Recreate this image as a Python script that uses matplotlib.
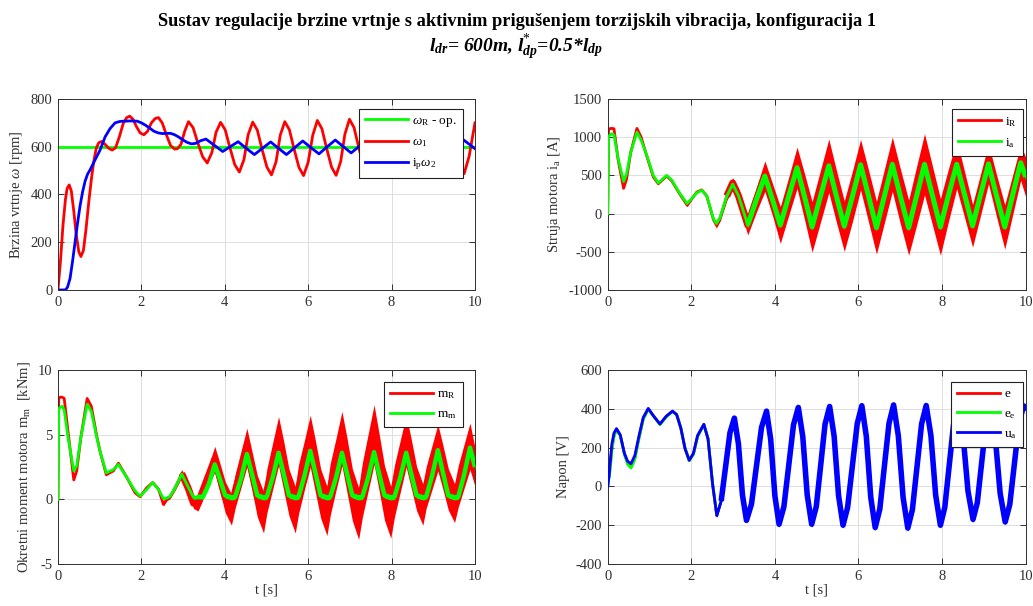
import numpy as np
import matplotlib
matplotlib.use("Agg")
import matplotlib.pyplot as plt

plt.rcParams["font.family"] = ["Liberation Serif", "DejaVu Serif"]
plt.rcParams["mathtext.fontset"] = "custom"
plt.rcParams["mathtext.rm"] = "Liberation Serif"
plt.rcParams["mathtext.it"] = "Liberation Serif:italic"
plt.rcParams["mathtext.bf"] = "Liberation Serif:bold"
plt.rcParams["mathtext.bfit"] = "Liberation Serif:bold:italic"
plt.rcParams["axes.unicode_minus"] = False

RED, GREEN, BLUE = "#ff0000", "#00ff00", "#0000ff"

# ==========================================
# 1. Data (t in s)
# ==========================================
# --- speed [rpm] ---
w_ref_t = [0, 10]
w_ref = [600, 600]

t_w1 = [0, 0.06, 0.12, 0.18, 0.22, 0.27, 0.32, 0.38, 0.44, 0.5, 0.55, 0.61, 0.67, 0.74, 0.8,
        0.86, 0.92, 0.98, 1.05, 1.13, 1.22, 1.3, 1.38, 1.47, 1.57, 1.65, 1.72, 1.8, 1.88, 1.97,
        2.06, 2.15, 2.24, 2.33, 2.41, 2.5, 2.6, 2.7, 2.8, 2.87, 2.95, 3.04,
        3.13, 3.24, 3.35, 3.47, 3.58, 3.69, 3.79,
        3.90, 4.01, 4.12, 4.24, 4.35, 4.46, 4.56,
        4.67, 4.78, 4.89, 5.01, 5.12, 5.23, 5.33,
        5.44, 5.55, 5.66, 5.78, 5.89, 6.0, 6.11,
        6.22, 6.33, 6.44, 6.56, 6.67, 6.78, 6.88,
        6.99, 7.1, 7.21, 7.33, 7.44, 7.55, 7.65,
        7.77, 7.88, 7.99, 8.11, 8.22, 8.33, 8.43,
        8.55, 8.66, 8.77, 8.89, 9.0, 9.11, 9.21,
        9.33, 9.44, 9.54, 9.64, 9.74, 9.86, 10.0]
w1 = [0, 120, 270, 380, 425, 440, 415, 330, 230, 160, 140, 165, 250, 370, 462,
      540, 595, 617, 622, 610, 593, 586, 595, 640, 700, 722, 728, 715, 685, 658,
      650, 665, 700, 718, 722, 700, 650, 605, 590, 592, 610, 665,
      705, 680, 618, 558, 532, 575, 660,
      702, 671, 598, 525, 494, 546, 650,
      703, 670, 592, 515, 482, 537, 648,
      705, 671, 592, 513, 479, 535, 648,
      710, 675, 595, 515, 480, 538, 652,
      715, 680, 599, 518, 483, 541, 657,
      715, 680, 600, 520, 485, 543, 658,
      712, 678, 599, 520, 486, 543, 656,
      712, 678, 600, 521, 487, 560, 700]

t_w2 = [0, 0.18, 0.23, 0.29, 0.35, 0.41, 0.47, 0.53, 0.59, 0.65, 0.71, 0.77, 0.89, 1.01, 1.13,
        1.25, 1.37, 1.49, 1.6, 1.75, 1.9, 2.0, 2.1, 2.2, 2.3, 2.4, 2.5, 2.6, 2.7, 2.8,
        2.9, 3.0, 3.1, 3.2, 3.3, 3.42, 3.55, 3.75, 3.95, 4.13, 4.32, 4.51, 4.71, 4.9, 5.1,
        5.29, 5.48, 5.67, 5.87, 6.06, 6.26, 6.45, 6.65, 6.84, 7.03, 7.22, 7.42, 7.61, 7.81, 8.0,
        8.2, 8.39, 8.58, 8.77, 8.97, 9.16, 9.36, 9.53, 9.70, 9.85, 10.0]
w2 = [0, 0, 12, 48, 120, 200, 280, 352, 410, 455, 485, 503, 545, 586, 641,
      676, 700, 706, 707, 708, 707, 700, 690, 678, 665, 658, 655, 656, 656, 650,
      640, 628, 618, 612, 614, 625, 632, 606, 580, 600, 621, 594, 567, 593, 620,
      593, 567, 595, 624, 597, 570, 599, 628, 601, 574, 601, 629, 602, 575, 602,
      630, 603, 576, 603, 631, 604, 577, 604, 632, 612, 592]

# --- motor current [A]; *_rip = half width of the switching ripple band ---
t_cur = [0, 0.02, 0.04, 0.1, 0.15, 0.25, 0.38, 0.45, 0.55, 0.7, 0.8, 0.93, 1.09, 1.21, 1.41,
         1.53, 1.73, 1.9, 2.13, 2.25, 2.37, 2.53, 2.6, 2.69, 2.85, 2.99, 3.13, 3.35, 3.55, 3.76,
         3.95, 4.13, 4.33, 4.53, 4.71, 4.89, 5.09, 5.29, 5.47, 5.66, 5.86, 6.05, 6.24, 6.43, 6.62,
         6.81, 7.0, 7.2, 7.39, 7.58, 7.77, 7.96, 8.15, 8.35, 8.54, 8.73, 8.92, 9.11, 9.3, 9.5,
         9.69, 9.88, 10.0]
i_a = [0, 1000, 1020, 1045, 1030, 720, 420, 520, 800, 1065, 960, 770, 500, 400, 500,
       440, 260, 130, 270, 305, 230, -70, -130, -50, 230, 385, 230, -150, 170, 490,
       170, -150, 225, 600, 220, -175, 225, 625, 230, -165, 235, 640, 230, -185, 230,
       645, 230, -185, 230, 645, 235, -175, 235, 645, 245, -160, 245, 650, 240, -175,
       245, 665, 480]
i_R = [0, 1100, 1110, 1115, 1110, 700, 330, 450, 800, 1115, 1000, 760, 480, 390, 490,
       430, 250, 110, 280, 310, 230, -80, -150, -60, 230, 400, 230, -150, 170, 490,
       170, -150, 225, 600, 220, -175, 225, 625, 230, -165, 235, 640, 230, -185, 230,
       645, 230, -185, 230, 645, 235, -175, 235, 645, 245, -160, 245, 650, 240, -175,
       245, 665, 480]
i_a_rip = [0] * 21 + [15, 15, 15, 20, 20, 25] + [40] * 36
i_R_rip = [0] * 17 + [20, 0, 10, 15, 30, 40, 40, 60, 70, 100, 130, 160, 200,
                      210, 240, 250, 270, 300, 330, 340, 350, 340, 330, 330, 330, 340, 345, 350,
                      355, 360, 360, 385, 400, 385, 370, 345, 320, 300, 280, 270, 260, 275, 290,
                      260, 230, 260]

# --- motor torque [kNm] ---
t_mom = [0, 0.02, 0.05, 0.1, 0.15, 0.25, 0.38, 0.45, 0.55, 0.7,
         0.8, 0.93, 1.01, 1.16, 1.33, 1.45, 1.65, 1.85, 1.97, 2.13,
         2.27, 2.41, 2.53, 2.61, 2.69, 2.81, 2.97, 3.13, 3.25, 3.36,
         3.48, 3.62, 3.76, 3.88, 4.01, 4.16,
         4.25, 4.39, 4.53, 4.65, 4.78, 4.93,
         5.01, 5.15, 5.29, 5.41, 5.54, 5.69,
         5.77, 5.91, 6.05, 6.17, 6.30, 6.45,
         6.53, 6.67, 6.81, 6.93, 7.06, 7.21,
         7.30, 7.44, 7.58, 7.70, 7.83, 7.98,
         8.07, 8.21, 8.35, 8.47, 8.60, 8.75,
         8.83, 8.97, 9.11, 9.23, 9.36, 9.51,
         9.60, 9.74, 9.88, 10.0]
m_m = [0, 7.0, 7.1, 7.2, 6.9, 4.6, 2.2, 2.6, 4.8, 7.35,
       6.8, 4.8, 3.7, 2.05, 2.3, 2.7, 1.7, 0.65, 0.25, 0.77,
       1.3, 0.77, 0.05, 0.1, 0.25, 0.9, 1.95, 0.9, 0.15, 0.2,
       0.2, 1.2, 2.7, 1.6, 0.3, 0.15,
       0.2, 1.6, 3.5, 2.0, 0.3, 0.15,
       0.2, 1.7, 3.6, 2.0, 0.3, 0.15,
       0.2, 1.8, 3.75, 2.1, 0.3, 0.15,
       0.2, 1.7, 3.6, 2.0, 0.3, 0.15,
       0.2, 1.7, 3.65, 2.0, 0.3, 0.15,
       0.2, 1.7, 3.6, 2.0, 0.3, 0.15,
       0.2, 1.8, 3.8, 2.1, 0.3, 0.15,
       0.2, 1.9, 4.0, 2.5]
m_R = [0, 7.8, 7.9, 7.9, 7.8, 5.0, 1.5, 2.2, 4.8, 7.8,
       7.2, 4.9, 3.7, 1.9, 2.2, 2.8, 1.7, 0.5, 0.2, 0.9,
       1.3, 0.8, -0.4, 0.0, 0.2, 0.9, 2.0, 0.8, -0.3, -0.3,
       0.72, 1.91, 3.1, 1.73, 0.18, -0.8,
       0.64, 2.32, 4.0, 2.25, 0.25, -1.0,
       0.65, 2.58, 4.5, 2.65, 0.53, -0.8,
       0.79, 2.65, 4.5, 2.61, 0.45, -0.9,
       0.78, 2.74, 4.7, 2.67, 0.35, -1.1,
       0.73, 2.87, 5.0, 2.9, 0.5, -1.0,
       0.65, 2.58, 4.5, 2.79, 0.83, -0.4,
       0.92, 2.46, 4.0, 2.5, 0.78, -0.3,
       1.02, 2.56, 4.1, 2.5]
m_m_rip = [0] * 22 + [0.05, 0.05, 0.08, 0.1, 0.1, 0.12, 0.15, 0.15] + [0.2] * 52
m_R_rip = [0] * 22 + [0.1, 0.1, 0.15, 0.2, 0.3, 0.35, 0.4, 0.6,
                      0.7, 0.8, 1.0, 1.1, 1.2, 1.2,
                      1.3, 1.4, 1.5, 1.5, 1.6, 1.6,
                      1.7, 1.8, 1.9, 1.9, 1.8, 1.8,
                      1.9, 1.9, 2.0, 2.0, 1.9, 1.9,
                      2.0, 2.0, 2.1, 2.1, 2.0, 2.0,
                      2.1, 2.2, 2.3, 2.2, 2.1, 2.0,
                      2.0, 2.0, 2.0, 1.9, 1.7, 1.6,
                      1.6, 1.7, 1.8, 1.7, 1.6, 1.5,
                      1.6, 1.7, 1.8, 1.5]

# --- voltage [V] ---
t_volt = [0, 0.05, 0.1, 0.15, 0.21, 0.3, 0.4, 0.48, 0.56, 0.65, 0.75, 0.85, 0.97,
          1.1, 1.25, 1.4, 1.55, 1.65, 1.75, 1.85, 1.95, 2.05, 2.15, 2.3, 2.4, 2.51,
          2.61, 2.715, 2.82, 2.925, 3.03, 3.127, 3.223, 3.32,
          3.44, 3.56, 3.68, 3.80, 3.90, 4.00, 4.10,
          4.215, 4.33, 4.445, 4.56, 4.667, 4.773, 4.88,
          4.99, 5.095, 5.20, 5.31, 5.417, 5.523, 5.63,
          5.74, 5.855, 5.97, 6.08, 6.187, 6.293, 6.40,
          6.51, 6.62, 6.73, 6.84, 6.953, 7.067, 7.18,
          7.29, 7.40, 7.51, 7.62, 7.733, 7.847, 7.96,
          8.065, 8.17, 8.275, 8.38, 8.50, 8.62, 8.74,
          8.843, 8.945, 9.048, 9.15, 9.27, 9.39, 9.51,
          9.62, 9.73, 9.84, 9.95, 10.0]
u_a = [0, 110, 220, 275, 298, 265, 170, 128, 118, 160, 262, 355, 402,
       362, 322, 362, 388, 370, 300, 195, 135, 170, 262, 320, 245, 10,
       -150, -75, 101, 277, 352, 220, -43, -175,
       -91, 107, 304, 388, 242, -49, -195,
       -105, 106, 317, 407, 257, -44, -195,
       -104, 108, 321, 412, 259, -47, -200,
       -108, 108, 324, 416, 259, -55, -212,
       -117, 104, 325, 420, 261, -56, -215,
       -120, 101, 322, 417, 263, -46, -200,
       -108, 106, 320, 412, 267, -24, -170,
       -84, 118, 319, 405, 258, -36, -183,
       -93, 116, 325, 415, 405]
e = [0, 85, 200, 265, 295, 265, 168, 120, 105, 150, 255, 350, 400,
     362, 320, 360, 388, 370, 300, 195, 133, 168, 260, 320, 245, 10] + u_a[26:]
e_e = [0, 70, 185, 255, 290, 265, 165, 112, 95, 140, 248, 345, 398,
       362, 318, 358, 386, 370, 302, 198, 132, 165, 255, 318, 248, 15] + u_a[26:]
u_a_rip = [0, 60, 20] + [0] * 22 + [5] + [10] * 8 + [16] * 61


# ==========================================
# 2. Helpers
# ==========================================
def style_axes(ax, ylim, yticks):
    ax.set_xlim(0, 10)
    ax.set_ylim(*ylim)
    ax.set_xticks(range(0, 11, 2))
    ax.set_yticks(yticks)
    ax.grid(True, color="#dedede", lw=0.7)
    ax.set_axisbelow(True)
    ax.tick_params(direction="in", length=4, width=0.7, top=True, right=True,
                   labelsize=10.5, colors="#303030", pad=4)
    for s in ax.spines.values():
        s.set_color("#303030")
        s.set_linewidth(0.7)


def band(ax, t, c, hw, color, label, z, thick_from=None, thick_lw=2):
    # ripple band + centre line; the switching part is drawn with a heavier stroke
    t, c, hw = np.asarray(t), np.asarray(c, float), np.asarray(hw, float)
    ax.fill_between(t, c - hw, c + hw, color=color, lw=0, zorder=z)
    if thick_from is None:
        ax.plot(t, c, color=color, lw=2, label=label, zorder=z)
    else:
        k = thick_from
        ax.plot(t[:k + 1], c[:k + 1], color=color, lw=2, label=label, zorder=z,
                solid_joinstyle="round")
        ax.plot(t[k:], c[k:], color=color, lw=thick_lw, zorder=z,
                solid_joinstyle="round", solid_capstyle="butt")


def add_legend(ax, x, y):
    leg = ax.legend(loc="upper right", bbox_to_anchor=(x, y), fontsize=9.5,
                    fancybox=False, framealpha=1, edgecolor="#202020",
                    handlelength=3.3, handletextpad=0.3, borderpad=0.45,
                    labelspacing=0.55, borderaxespad=0)
    leg.get_frame().set_linewidth(0.8)
    leg.set_zorder(20)


# ==========================================
# 3. Figure
# ==========================================
fig = plt.figure(figsize=(10.33, 6.06), dpi=100)

ax1 = fig.add_axes([0.0561, 0.5215, 0.4037, 0.3152])
ax2 = fig.add_axes([0.5883, 0.5215, 0.4046, 0.3152])
ax3 = fig.add_axes([0.0561, 0.0693, 0.4037, 0.3201])
ax4 = fig.add_axes([0.5883, 0.0693, 0.4046, 0.3201])

# speed
ax1.plot(w_ref_t, w_ref, color=GREEN, lw=2, label=r"$\omega_\mathrm{R}$ - op.")
ax1.plot(t_w1, w1, color=RED, lw=2, label=r"$\omega_1$")
ax1.plot(t_w2, w2, color=BLUE, lw=2, label=r"i$_\mathrm{p}\omega_2$")
style_axes(ax1, (0, 800), range(0, 801, 200))
ax1.set_ylabel(r"Brzina vrtnje $\omega$ [rpm]", fontsize=10.5, color="#303030")
add_legend(ax1, 0.971, 0.948)

# current
band(ax2, t_cur, i_R, i_R_rip, RED, r"i$_\mathrm{R}$", 2, thick_from=24, thick_lw=5)
band(ax2, t_cur, i_a, i_a_rip, GREEN, r"i$_\mathrm{a}$", 3, thick_from=27, thick_lw=3.6)
style_axes(ax2, (-1000, 1500), range(-1000, 1501, 500))
ax2.set_ylabel(r"Struja motora i$_\mathrm{a}$ [A]", fontsize=10.5, color="#303030")
add_legend(ax2, 0.9935, 0.948)

# torque
band(ax3, t_mom, m_R, m_R_rip, RED, r"m$_\mathrm{R}$", 2, thick_from=26, thick_lw=5)
band(ax3, t_mom, m_m, m_m_rip, GREEN, r"m$_\mathrm{m}$", 3, thick_from=29, thick_lw=3.2)
style_axes(ax3, (-5, 10), range(-5, 11, 5))
ax3.set_ylabel(r"Okretni moment motora m$_\mathrm{m}$  [kNm]", fontsize=10.5, color="#303030")
ax3.set_xlabel("t [s]", fontsize=10.5, color="#303030", labelpad=1)
add_legend(ax3, 0.971, 0.938)

# voltage
ax4.plot(t_volt, e, color=RED, lw=2, label="e", zorder=2)
ax4.plot(t_volt, e_e, color=GREEN, lw=2, label=r"e$_\mathrm{e}$", zorder=3)
band(ax4, t_volt, u_a, u_a_rip, BLUE, r"u$_\mathrm{a}$", 4, thick_from=27, thick_lw=4)
style_axes(ax4, (-400, 600), range(-400, 601, 200))
ax4.set_ylabel("Napon [V]", fontsize=10.5, color="#303030")
ax4.set_xlabel("t [s]", fontsize=10.5, color="#303030", labelpad=1)
add_legend(ax4, 0.9935, 0.938)

fig.text(0.5, 1 - 22 / 606,
         "Sustav regulacije brzine vrtnje s aktivnim prigušenjem torzijskih vibracija, konfiguracija 1",
         ha="center", va="center", fontsize=13.2, fontweight="bold")
fig.text(0.5, 1 - 47 / 606,
         r"l$_{\mathbfit{dr}}$= 600m, l$^{*}_{\mathbfit{dp}}$=0.5*l$_{\mathbfit{dp}}$",
         ha="center", va="center", fontsize=14, fontweight="bold", style="italic")

fig.savefig("out.png", dpi=100)
